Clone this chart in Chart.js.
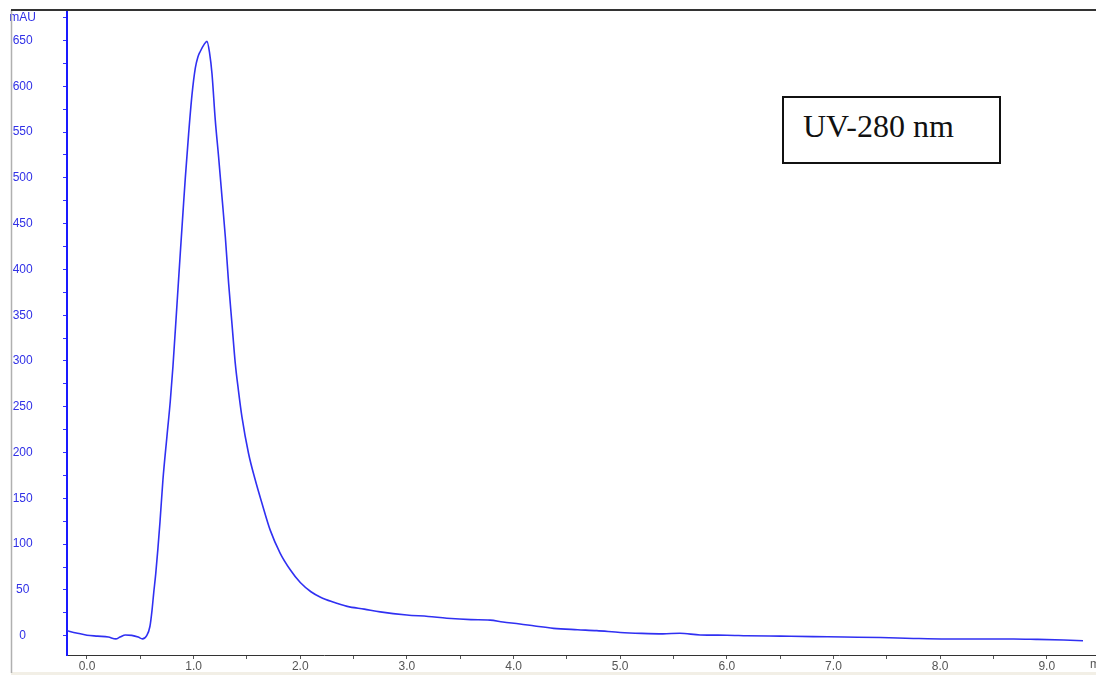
<!DOCTYPE html>
<html>
<head>
<meta charset="utf-8">
<script src="https://cdn.jsdelivr.net/npm/chart.js@4/dist/chart.umd.min.js"></script>
<style>
    body { margin: 0; background: #ffffff; }
    #wrap { position: relative; width: 1096px; height: 675px; }
    #uvBox {
        position: absolute;
        left: 782px;
        top: 96px;
        width: 219px;
        height: 68px;
        box-sizing: border-box;
        border: 2px solid #111;
        background: #fff;
    }
    #uvBox span {
        position: absolute;
        left: 19px;
        top: 12px;
        font-family: "Liberation Serif", "Times New Roman", serif;
        font-size: 32px;
        line-height: 1;
        color: #111;
        white-space: nowrap;
    }
</style>
</head>
<body>
<div id="wrap">
    <canvas id="uvChart" width="1096" height="675"></canvas>
    <div id="uvBox"><span>UV-280 nm</span></div>
</div>

<script>
// ================================
// Chromatogram data (UV 280 nm)
// ================================

// retention time, min
const times = [
    -0.19, -0.1, 0.0, 0.1, 0.2, 0.27, 0.31, 0.36, 0.42, 0.48, 0.52, 0.56,
    0.59, 0.61, 0.625, 0.645, 0.665, 0.685, 0.712, 0.75, 0.781, 0.806,
    0.844, 0.875, 0.9, 0.922, 0.953, 0.984, 1.016, 1.04, 1.062, 1.1, 1.125,
    1.15, 1.172, 1.203, 1.234, 1.266, 1.297, 1.328, 1.36, 1.39, 1.42,
    1.453, 1.515, 1.578, 1.64, 1.719, 1.812, 1.906, 2.0, 2.1, 2.19, 2.3,
    2.44, 2.6, 2.75, 3.0, 3.2, 3.375, 3.6, 3.78, 3.9, 4.06, 4.2, 4.375,
    4.6, 4.78, 5.0, 5.2, 5.4, 5.56, 5.75, 6.0, 6.19, 6.5, 6.81, 7.1,
    7.44, 7.75, 8.06, 8.4, 8.69, 8.9, 9.16, 9.34
];

// absorbance, mAU
const absorbance = [
    5.5, 3, 0.5, -0.5, -1.5, -3.5, -1.5, 0.8, 0.3, -1.5, -3.5, 0,
    10, 28, 46, 68, 95, 125, 170, 218, 256, 294,
    362, 418, 462, 500, 548, 590, 620, 632, 638, 646, 649,
    636, 614, 563, 523, 479, 436, 385, 340, 298, 268,
    239, 199, 170, 145, 115, 90, 72, 58, 48, 42, 37,
    32, 29, 26, 22.6, 21, 19, 17.5, 17, 15, 12.8, 10.5, 8,
    6.5, 5.5, 3.5, 2.5, 2, 2.6, 0.8, 0.5, 0, -0.5, -1, -1.5,
    -2, -3, -3.6, -3.6, -3.6, -4, -4.7, -5.5
];

// axis ticks
const xTicks = [0, 0.5, 1, 1.5, 2, 2.5, 3, 3.5, 4, 4.5, 5, 5.5, 6, 6.5, 7, 7.5, 8, 8.5, 9];
const yTicks = [0, 25, 50, 75, 100, 125, 150, 175, 200, 225, 250, 275, 300, 325,
    350, 375, 400, 425, 450, 475, 500, 525, 550, 575, 600, 625, 650, 675];

const points = times.map((t, i) => ({ x: t, y: absorbance[i] }));

// frame lines around the plot (instrument printout style)
const framePlugin = {
    id: "frame",
    afterDraw(chart) {
        const c = chart.ctx;
        c.save();
        c.fillStyle = "#f2efe6";
        c.fillRect(11, 672, 1085, 3);
        c.strokeStyle = "#b0b0b0";
        c.lineWidth = 1.5;
        c.beginPath();
        c.moveTo(11.5, 10);
        c.lineTo(11.5, 673);
        c.stroke();
        c.strokeStyle = "#333333";
        c.lineWidth = 2;
        c.beginPath();
        c.moveTo(11, 10);
        c.lineTo(1096, 10);
        c.stroke();
        c.fillStyle = "#555555";
        c.font = "12px 'Liberation Sans', Arial, sans-serif";
        c.textBaseline = "middle";
        c.fillText("min", 1090, 665);
        c.restore();
    }
};

const ctx = document.getElementById("uvChart").getContext("2d");

new Chart(ctx, {
    type: "line",
    data: {
        datasets: [
            {
                label: "UV-280 nm",
                data: points,
                borderColor: "#3030f2",
                borderWidth: 1.6,
                pointRadius: 0,
                cubicInterpolationMode: "monotone",
                fill: false
            }
        ]
    },
    options: {
        responsive: false,
        animation: false,
        devicePixelRatio: 1,
        layout: {
            padding: { top: 10, right: 0, bottom: 0, left: 0 }
        },
        plugins: {
            legend: { display: false },
            tooltip: { enabled: false }
        },
        scales: {
            x: {
                type: "linear",
                min: -0.1875,
                max: 9.462,
                afterBuildTicks: s => { s.ticks = xTicks.map(v => ({ value: v })); },
                afterFit: s => { s.height = 20; s.paddingLeft = 0; s.paddingRight = 0; },
                border: { display: true, color: "#333333", width: 1 },
                grid: {
                    drawOnChartArea: false,
                    drawTicks: true,
                    tickLength: 4,
                    tickColor: "#555555"
                },
                ticks: {
                    autoSkip: false,
                    maxRotation: 0,
                    padding: 0,
                    color: "#555555",
                    font: { family: "'Liberation Sans', Arial, sans-serif", size: 12 },
                    callback: v => Number.isInteger(v) ? v.toFixed(1) : ""
                }
            },
            y: {
                min: -21.1,
                max: 683.3,
                afterBuildTicks: s => { s.ticks = yTicks.map(v => ({ value: v })); },
                afterFit: s => { s.width = 67; s.paddingTop = 0; s.paddingBottom = 0; },
                border: { display: true, color: "#1a1aff", width: 2 },
                grid: {
                    drawOnChartArea: false,
                    drawTicks: true,
                    tickLength: 4,
                    tickColor: "#3333ff"
                },
                ticks: {
                    autoSkip: false,
                    padding: 27,
                    crossAlign: "center",
                    color: "#3030e6",
                    font: { family: "'Liberation Sans', Arial, sans-serif", size: 12 },
                    callback: v => v === 675 ? "mAU" : (v % 50 === 0 ? String(v) : "")
                }
            }
        }
    },
    plugins: [framePlugin]
});
</script>
</body>
</html>
